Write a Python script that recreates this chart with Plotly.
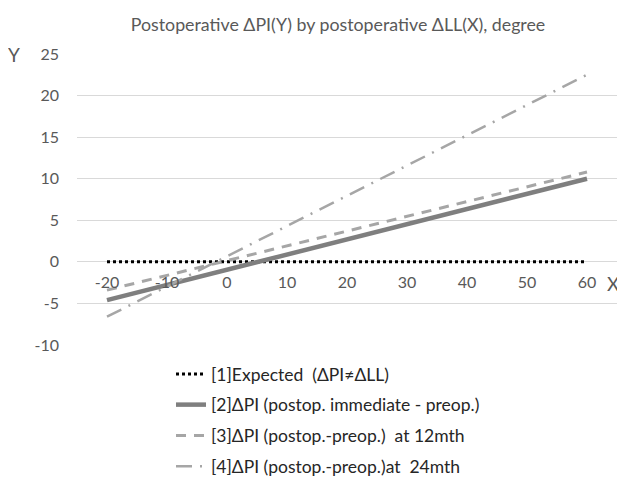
import plotly.graph_objects as go

x_ticks = [-20, -10, 0, 10, 20, 30, 40, 50, 60]
x_ticktext = ["-20", "-10", "0", "10", "20", "30", "40", "50", "60"]
y_ticks = [-10, -5, 0, 5, 10, 15, 20, 25]
y_ticktext = ["-10", "-5", "0", "5", "10", "15", "20", "25"]
x_ends = [-20, 60]
expected = [0, 0]
immediate = [-4.6, 10.0]
mth12 = [-3.4, 10.8]
mth24 = [-6.6, 22.5]

names = [
    "[1]Expected  (ΔPI≠ΔLL)",
    "[2]ΔPI (postop. immediate - preop.)",
    "[3]ΔPI (postop.-preop.)  at 12mth",
    "[4]ΔPI (postop.-preop.)at  24mth",
]

# page body has an 8px margin, so figure pixel = page pixel - 8
OFF = 8
W, H = 625 - OFF, 478 - OFF
PL, PR, PT, PB = 77 - OFF, 617 - OFF, 54 - OFF, 345 - OFF  # plot area in figure px

def px_x(x):
    return (x - OFF - PL) / (PR - PL)

def px_y(y):
    return (PB - (y - OFF)) / (PB - PT)

FONT = "Lato"
fig = go.Figure()
fig.add_trace(go.Scatter(x=x_ends, y=expected, mode="lines", name=names[0], legendgroup="a",
                         line=dict(color="#000000", width=3, dash="3px,3px")))
fig.add_trace(go.Scatter(x=x_ends, y=immediate, mode="lines", name=names[1], legendgroup="b",
                         line=dict(color="#7f7f7f", width=4.5)))
fig.add_trace(go.Scatter(x=x_ends, y=mth12, mode="lines", name=names[2], legendgroup="c",
                         line=dict(color="#a6a6a6", width=3, dash="10px,8px")))
fig.add_trace(go.Scatter(x=x_ends, y=mth24, mode="lines", name=names[3], legendgroup="d",
                         line=dict(color="#a6a6a6", width=2.5, dash="16px,8px,2px,8px")))

fig.update_layout(
    width=W, height=H,
    margin=dict(l=PL, r=W - PR, t=PT, b=H - PB, autoexpand=False),
    paper_bgcolor="white", plot_bgcolor="white",
    font=dict(family=FONT, color="#595959", size=16),
    title=dict(text="Postoperative ΔPI(Y) by postoperative ΔLL(X), degree",
               x=(338 - OFF) / W, xanchor="center", y=1 - (25 - OFF) / H, yanchor="middle",
               font=dict(family=FONT, size=17.8, color="#595959")),
    xaxis=dict(range=[-25, 65], tickvals=x_ticks, ticktext=x_ticktext, showgrid=False,
               zeroline=False, showline=False, anchor="free", position=10 / 35, ticks="",
               automargin=False, tickfont=dict(size=16, color="#595959"),
               ticklabelstandoff=9),
    yaxis=dict(range=[-10, 25], tickvals=y_ticks, ticktext=y_ticktext, showgrid=True,
               gridcolor="#d9d9d9", gridwidth=1, zeroline=False, showline=False, ticks="",
               automargin=False, tickfont=dict(size=16, color="#595959"),
               ticklabelstandoff=17),
    legend=dict(xref="container", yref="container", x=(171 - OFF) / W,
                y=1 - (356 - OFF) / H,
                xanchor="left", yanchor="top", tracegroupgap=5,
                font=dict(size=17.5, color="#262626"), bgcolor="rgba(0,0,0,0)"),
    showlegend=True,
)

fig.add_annotation(text="Y", x=px_x(14), y=px_y(54), xref="paper", yref="paper",
                   showarrow=False, font=dict(size=19, color="#595959"),
                   xanchor="center", yanchor="middle")
fig.add_annotation(text="X", x=px_x(613), y=px_y(283), xref="paper", yref="paper",
                   showarrow=False, font=dict(size=19, color="#595959"),
                   xanchor="center", yanchor="middle")

fig.write_html("out.html")
